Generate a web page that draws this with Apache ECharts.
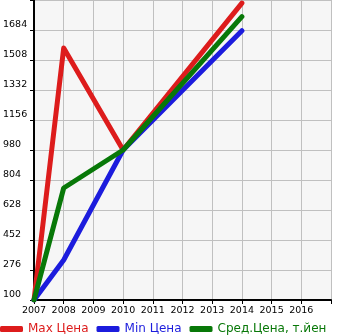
<!DOCTYPE html>
<html><head><meta charset="utf-8">
<script src="https://cdn.jsdelivr.net/npm/echarts@6/dist/echarts.min.js"></script>
<style>html,body{margin:0;padding:0;background:#fff}#c{width:345px;height:335px}</style>
</head><body><div id="c"></div>
<script>
const years = [2007, 2008, 2010, 2014];
const maxPrice = [100, 1578, 980, 1842];
const minPrice = [100, 335, 980, 1680];
const avgPrice = [100, 757, 980, 1762];
const seriesNames = ['Max Цена', 'Min Цена', 'Сред.Цена, т.йен'];
const colors = ['#dd1c1c', '#1c1cdd', '#087808'];
const yMin = 100, yMax = 1860, yStep = 176;
const xMin = 2007, xMax = 2017, xLabelMax = 2016;

const pairs = arr => years.map((y, i) => [y, arr[i]]);
const chart = echarts.init(document.getElementById('c'), null, {renderer: 'canvas'});
const font = 'DejaVu Sans';
chart.setOption({
  animation: false,
  legend: {
    bottom: 0, left: 0, padding: 0, itemGap: 8, itemWidth: 23, itemHeight: 6,
    icon: 'roundRect',
    textStyle: {fontFamily: font, fontSize: 12},
    data: seriesNames.map((n, i) => ({name: n, textStyle: {color: colors[i]}}))
  },
  grid: {left: 31, right: 14, top: 0, bottom: 35, show: true, backgroundColor: '#f6f6f6', borderWidth: 0},
  xAxis: {
    type: 'value', min: xMin, max: xMax, interval: 1,
    axisLine: {show: true, onZero: false, lineStyle: {color: '#000', width: 2}},
    axisTick: {show: true, length: 4, lineStyle: {color: '#000', width: 1}},
    splitLine: {show: true, lineStyle: {color: '#c0c0c0', width: 1}},
    axisLabel: {fontFamily: font, fontSize: 9.5, color: '#000', margin: 6,
      formatter: v => v <= xLabelMax ? String(v) : ''}
  },
  yAxis: {
    type: 'value', min: yMin, max: yMax, interval: yStep,
    axisLine: {show: true, lineStyle: {color: '#000', width: 2}},
    axisTick: {show: true, length: 4, lineStyle: {color: '#000', width: 1}},
    splitLine: {show: true, lineStyle: {color: '#c0c0c0', width: 1}},
    axisLabel: {fontFamily: font, fontSize: 9.5, color: '#000', margin: 31, align: 'left',
      verticalAlign: 'bottom', formatter: v => v >= yMax ? '' : String(v)}
  },
  series: seriesNames.map((n, i) => ({
    name: n, type: 'line', data: pairs([maxPrice, minPrice, avgPrice][i]),
    showSymbol: false, symbol: 'none', color: colors[i],
    lineStyle: {width: 5, color: colors[i], cap: 'round', join: 'round'}
  }))
});
</script></body></html>
